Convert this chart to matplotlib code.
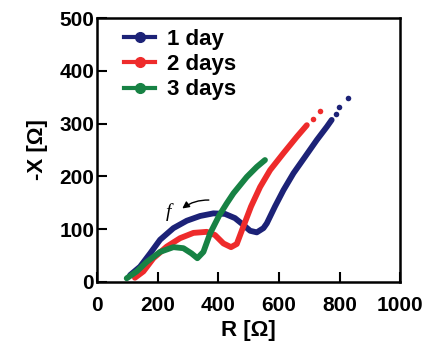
import matplotlib
matplotlib.use("Agg")
import matplotlib.pyplot as plt
from matplotlib.lines import Line2D

plt.rcParams['font.family'] = ['Liberation Sans', 'DejaVu Sans']
plt.rcParams['font.weight'] = 'bold'

# 1 day
r_1d = [109, 142, 175, 208, 252, 296, 340, 384, 422, 455, 483, 505, 527, 549, 560,
        587, 615, 648, 686, 725, 758, 774]
x_1d = [13, 29, 54, 80, 102, 116, 125, 130, 129, 121, 108, 97, 94, 102, 111,
        143, 174, 206, 237, 269, 294, 307]
r_1d_tail = [789, 799, 827]
x_1d_tail = [318, 331, 348]
# 2 days
r_2d = [125, 153, 186, 230, 274, 318, 362, 389, 417, 442, 461, 478, 508, 538, 571,
        615, 659, 692]
x_2d = [8, 20, 45, 67, 83, 93, 95, 89, 73, 66, 72, 98, 143, 180, 212,
        244, 275, 297]
r_2d_tail = [712, 734]
x_2d_tail = [308, 323]
# 3 days
r_3d = [98, 131, 164, 208, 252, 285, 312, 331, 351, 373, 403, 428, 450, 494, 527, 554]
x_3d = [7, 20, 38, 57, 66, 64, 54, 45, 57, 92, 126, 149, 168, 199, 218, 231]

labels = ['1 day', '2 days', '3 days']
colors = ['#1c2277', '#ee2b2b', '#178244']

fig = plt.figure(figsize=(4.35, 3.64), dpi=100)
ax = fig.add_axes([0.223, 0.2253, 0.697, 0.7252])

series = [(r_1d, x_1d, r_1d_tail, x_1d_tail),
          (r_2d, x_2d, r_2d_tail, x_2d_tail),
          (r_3d, x_3d, [], [])]
for (r, x, rt, xt), c in zip(series, colors):
    ax.plot(r, x, color=c, lw=4.2, solid_capstyle='round', solid_joinstyle='round')
    if rt:
        ax.plot(rt, xt, 'o', color=c, ms=4, mec='none')

ax.set_xlim(0, 1000)
ax.set_ylim(0, 500)
ax.set_xticks([0, 200, 400, 600, 800, 1000])
ax.set_yticks([0, 100, 200, 300, 400, 500])
ax.tick_params(direction='in', length=7, width=1.5, labelsize=15)
ax.tick_params(axis='x', pad=10)
ax.tick_params(axis='y', pad=2)
for s in ax.spines.values():
    s.set_linewidth(1.8)
ax.set_xlabel('R [Ω]', fontsize=16, fontweight='bold', labelpad=4)
ax.set_ylabel('-X [Ω]', fontsize=16, fontweight='bold', labelpad=8)

handles = [Line2D([], [], color=c, lw=3, marker='o', ms=7) for c in colors]
ax.legend(handles, labels, loc='upper left', bbox_to_anchor=(0.09, 0.96),
          frameon=False, fontsize=16, handlelength=1.4, handletextpad=0.5,
          labelspacing=0.2, borderpad=0, borderaxespad=0)

ax.annotate('', xy=(274, 136), xytext=(378, 155),
            arrowprops=dict(arrowstyle='-|>', color='black', lw=1,
                            connectionstyle='arc3,rad=0.2', mutation_scale=10))
ax.text(235, 133, 'f', fontsize=14, fontstyle='italic', fontweight='normal',
        family='Liberation Serif', ha='center', va='center')

fig.savefig('out.png', dpi=100)
